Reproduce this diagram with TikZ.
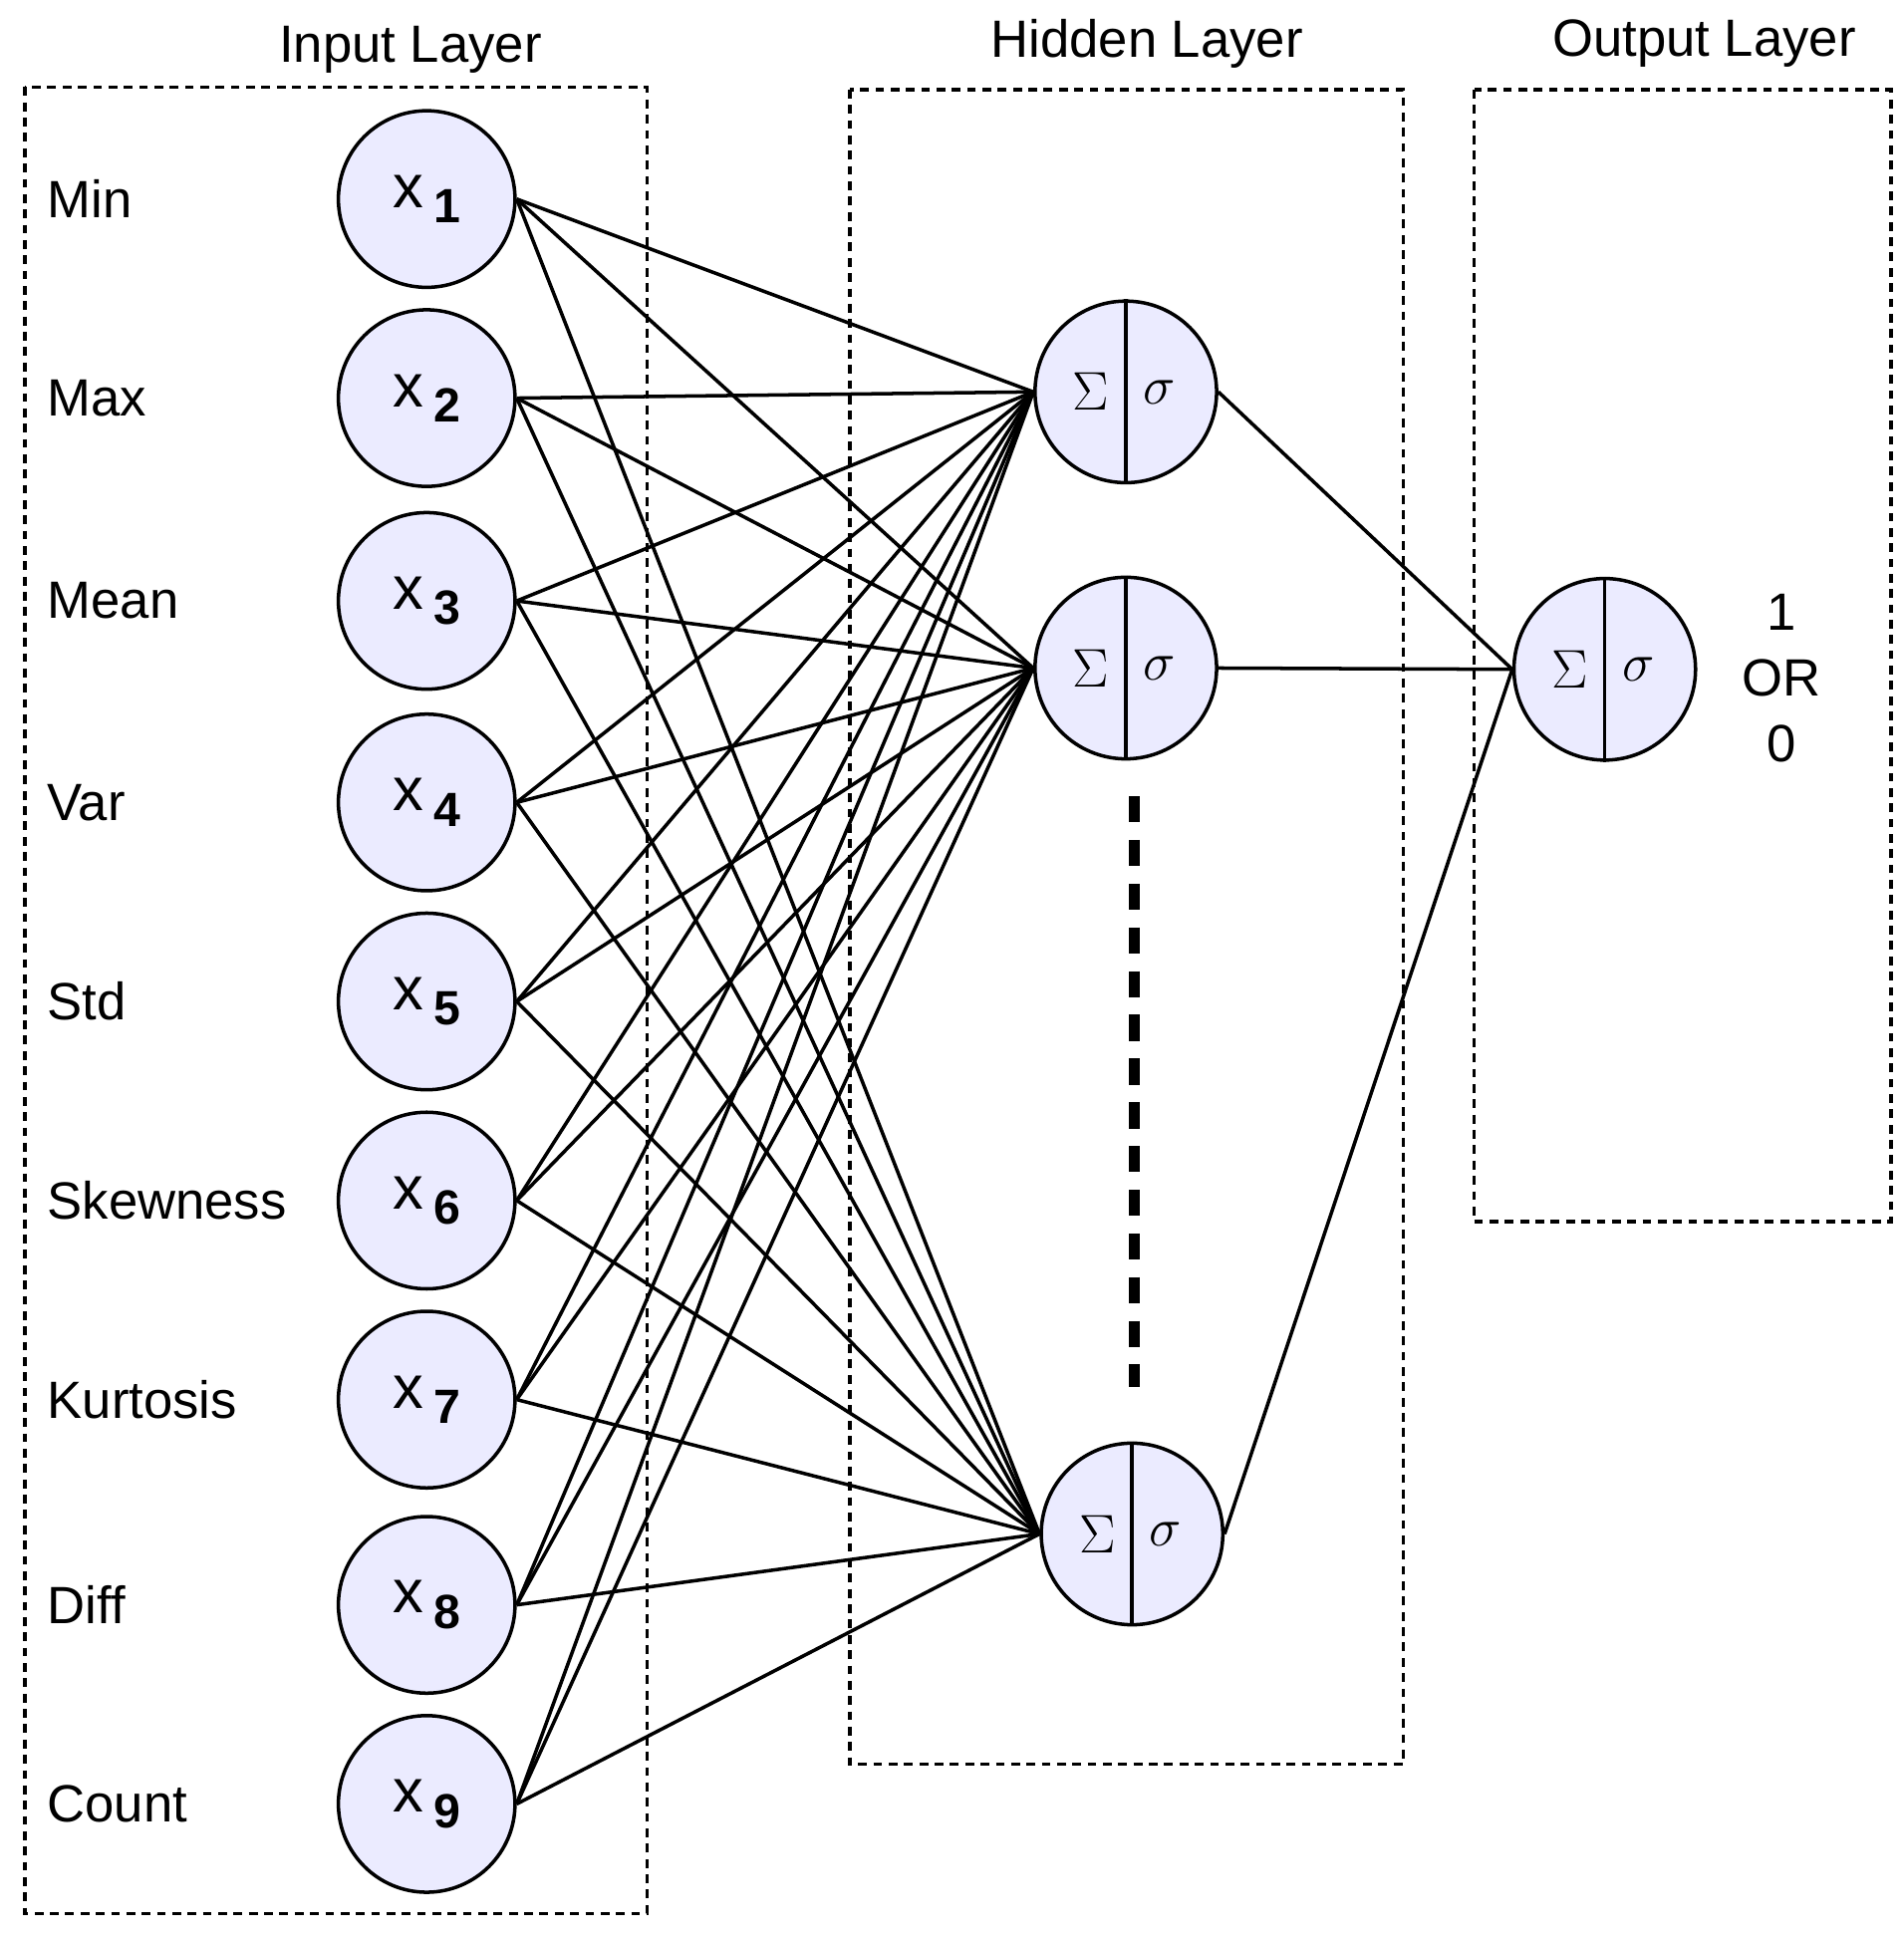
\documentclass[tikz,border=0pt]{standalone}
\usepackage{fontspec}
\setmainfont{Liberation Sans}
\begin{document}
\begin{tikzpicture}[x=0.02cm,y=-0.02cm,
  box/.style={draw,line width=1.6pt,dash pattern=on 4pt off 3pt},
  inp/.style={circle,draw,line width=1.6pt,fill=blue!8!white,minimum size=2.84cm,inner sep=0pt},
  hid/.style={circle,draw,line width=1.6pt,fill=blue!8!white,minimum size=2.92cm,inner sep=0pt},
  lbl/.style={anchor=west,font=\fontsize{24}{28}\selectfont},
  ttl/.style={font=\fontsize{24}{28}\selectfont},
  conn/.style={line width=1.6pt}]
\useasboundingbox (0,0) rectangle (1530,1561);
\draw[box] (20,70) rectangle (520,1538);
\draw[box] (683,72) rectangle (1128,1418);
\draw[box] (1185,72) rectangle (1520,982);
\node[ttl] (t1) at (330,40) {Input Layer};
\node[ttl] (t2) at (922,35) {Hidden Layer};
\node[ttl] (t3) at (1370,35) {Output Layer};
\foreach \i/\y/\n in {1/160/Min,2/320/Max,3/483/Mean,4/645/Var,5/805/Std,6/965/Skewness,7/1125/Kurtosis,8/1290/Diff,9/1450/Count}{
  \node[inp] (x\i) at (343,\y) {\fontsize{28}{30}\selectfont x\,\raisebox{-0.25em}{\fontsize{22}{24}\selectfont\bfseries\i}};
  \node[lbl] (l\i) at (32,\y) {\n};
}
\foreach \j/\xx/\y in {1/905/315,2/905/537,3/910/1233,4/1290/538}{
  \node[hid] (h\j) at (\xx,\y) {};
  \draw[line width=1.6pt] (h\j.north) -- (h\j.south);
  \node[font=\fontsize{28}{30}\selectfont] (s\j) at (\xx-28,\y) {$\Sigma$};
  \node[font=\fontsize{28}{30}\selectfont] (g\j) at (\xx+27,\y) {$\sigma$};
}
\foreach \i in {1,...,9}{
  \foreach \j in {1,2,3}{
    \draw[conn] (x\i.east) -- (h\j.west);
  }
}
\foreach \j in {1,2,3}{ \draw[conn] (h\j.east) -- (h4.west); }
\coordinate (d1) at (912,640);
\coordinate (d2) at (912,1115);
\draw[line width=5pt,dash pattern=on 12pt off 8pt] (d1) -- (d2);
\node[font=\fontsize{24}{30}\selectfont,align=center] (o) at (1432,545) {1\\OR\\0};
\end{tikzpicture}
\end{document}
